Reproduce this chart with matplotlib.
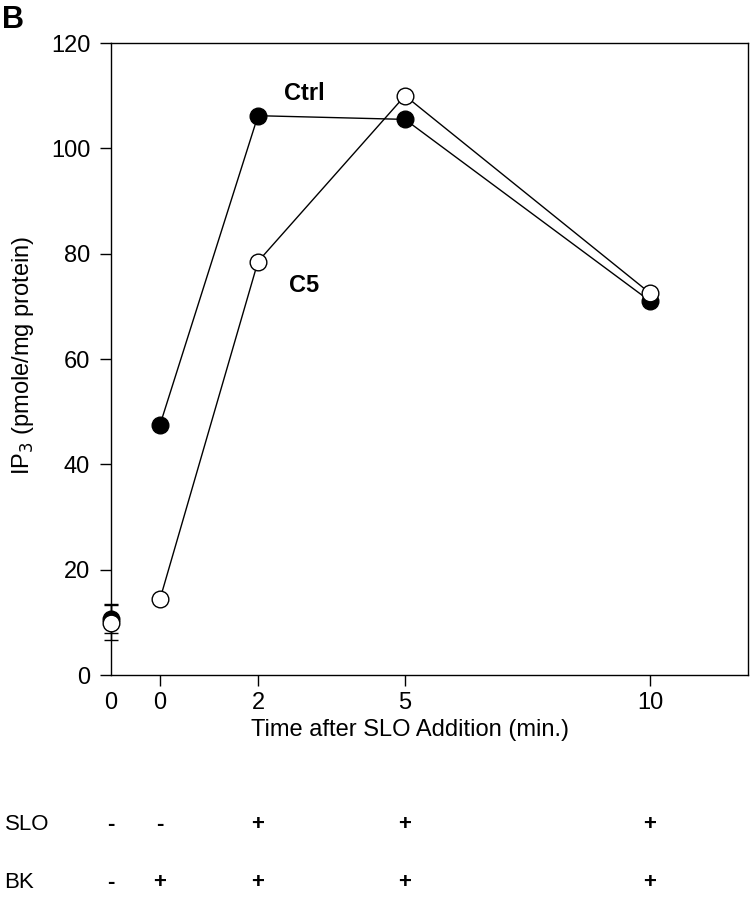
import matplotlib
matplotlib.use("Agg")
import matplotlib.pyplot as plt
import matplotlib.transforms as mtransforms

plt.rcParams['font.family'] = ['Liberation Sans', 'DejaVu Sans']

# time points (x = -1 is the basal "0" column, no SLO, no BK)
times = [0, 2, 5, 10]
ctrl_ip3 = [47.5, 106.2, 105.5, 71.0]
c5_ip3 = [14.4, 78.5, 110.0, 72.5]

basal_x = -1
ctrl_basal, ctrl_basal_err = 10.7, 2.7
c5_basal, c5_basal_err = 9.9, 3.3

tick_pos = [-1, 0, 2, 5, 10]
tick_labels = ['0', '0', '2', '5', '10']
slo_row = ['-', '-', '+', '+', '+']
bk_row = ['-', '+', '+', '+', '+']

fig = plt.figure(figsize=(7.52, 9), dpi=100)
ax = fig.add_axes([0.1476, 0.25, 0.8471, 0.7022])

mk = dict(marker='o', markersize=12, markeredgecolor='black', markeredgewidth=1.0)

# Ctrl (filled)
ax.plot(times, ctrl_ip3, color='black', lw=1.0, markerfacecolor='black', **mk, zorder=3)
ax.errorbar([basal_x], [ctrl_basal], yerr=[ctrl_basal_err], fmt='o', color='black',
            markersize=12, markerfacecolor='black', ecolor='black', elinewidth=1,
            capsize=5, capthick=1, zorder=3, clip_on=False)

# C5 (open)
ax.plot(times, c5_ip3, color='black', lw=1.0, markerfacecolor='white', **mk, zorder=4)
ax.errorbar([basal_x], [c5_basal], yerr=[c5_basal_err], fmt='o', color='black',
            markersize=12, markerfacecolor='white', ecolor='black', elinewidth=1,
            capsize=5, capthick=1, zorder=4, clip_on=False)

ax.text(2.95, 110.5, 'Ctrl', fontsize=17, fontweight='bold', ha='center', va='center')
ax.text(2.95, 74, 'C5', fontsize=17, fontweight='bold', ha='center', va='center')

ax.set_xlim(-1, 12)
ax.set_ylim(0, 120)
ax.set_xticks(tick_pos)
ax.set_xticklabels(tick_labels)
ax.set_yticks(range(0, 121, 20))
ax.tick_params(direction='out', length=8, width=1, labelsize=17, pad=7)
ax.tick_params(axis='x', pad=4)
ax.xaxis.get_major_ticks()[0].tick1line.set_visible(False)
for s in ax.spines.values():
    s.set_linewidth(1.0)

ax.set_xlabel('Time after SLO Addition (min.)', fontsize=17)
ax.set_ylabel('IP$_3$ (pmole/mg protein)', fontsize=17)
ax.xaxis.set_label_coords(0.47, -0.07)
ax.yaxis.set_label_coords(-0.118, 0.506)

fig.text(0.003, 0.995, 'B', fontsize=22, fontweight='bold', ha='left', va='top')

# treatment table under the axis
trans = mtransforms.blended_transform_factory(ax.transData, fig.transFigure)
fig.text(0.006, 0.0844, 'SLO', fontsize=16, ha='left', va='center')
fig.text(0.006, 0.0189, 'BK', fontsize=16, ha='left', va='center')
for xp, s, b in zip(tick_pos, slo_row, bk_row):
    ax.text(xp, 0.0844, s, transform=trans, fontsize=16, fontweight='bold', ha='center', va='center')
    ax.text(xp, 0.0189, b, transform=trans, fontsize=16, fontweight='bold', ha='center', va='center')

fig.savefig('out.png', dpi=100)
